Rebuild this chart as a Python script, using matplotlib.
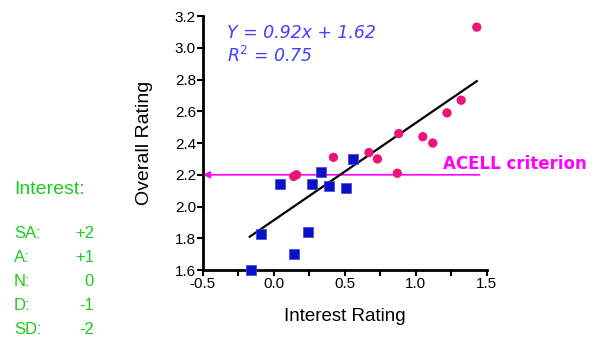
import matplotlib
matplotlib.use("Agg")
import matplotlib.pyplot as plt

# Data
blue_x = [-0.16, -0.09, 0.04, 0.14, 0.24, 0.27, 0.33, 0.39, 0.51, 0.56]
blue_y = [1.60, 1.83, 2.14, 1.70, 1.84, 2.14, 2.22, 2.13, 2.12, 2.30]
pink_x = [0.14, 0.16, 0.42, 0.67, 0.73, 0.88, 0.87, 1.05, 1.12, 1.22, 1.32, 1.43]
pink_y = [2.19, 2.20, 2.31, 2.34, 2.30, 2.46, 2.21, 2.44, 2.40, 2.59, 2.67, 3.13]
fit_x = [-0.17, 1.43]
fit_y = [1.81, 2.79]
acell_y = 2.2
acell_x_end = 1.45
x_ticks = [-0.5, 0.0, 0.5, 1.0, 1.5]
x_minor = [-0.25, 0.25, 0.75, 1.25]
y_ticks = [1.6, 1.8, 2.0, 2.2, 2.4, 2.6, 2.8, 3.0, 3.2]
legend_title = "Interest:"
legend_keys = ["SA:", "A:", "N:", "D:", "SD:"]
legend_vals = ["+2", "+1", "0", "-1", "-2"]

plt.rcParams['font.family'] = ['Liberation Sans', 'DejaVu Sans']

fig = plt.figure(figsize=(5.95, 3.41), dpi=100)
ax = fig.add_axes([0.341, 0.208, 0.477, 0.745])

ax.plot(fit_x, fit_y, color='black', lw=1.6, zorder=2)
ax.annotate('', xy=(-0.5, acell_y), xytext=(acell_x_end, acell_y),
            arrowprops=dict(arrowstyle='-|>', color='#ff00ff', lw=1.2,
                            mutation_scale=10, shrinkA=0, shrinkB=0),
            zorder=1, annotation_clip=False)
ax.scatter(blue_x, blue_y, marker='s', s=44, color='#0a10c8', zorder=3,
           edgecolors='#3a44e0', linewidths=0.5, clip_on=False)
ax.scatter(pink_x, pink_y, marker='o', s=45, color='#ec1478', zorder=3,
           edgecolors='none', clip_on=False)

ax.set_xlim(-0.5, 1.5)
ax.set_ylim(1.6, 3.2)
ax.set_xticks(x_ticks)
ax.set_xticklabels([f"{v:.1f}" for v in x_ticks])
ax.set_xticks(x_minor, minor=True)
ax.set_yticks(y_ticks)
ax.set_yticklabels([f"{v:.1f}" for v in y_ticks])
for s in ['top', 'right']:
    ax.spines[s].set_visible(False)
for s in ['left', 'bottom']:
    ax.spines[s].set_linewidth(2)
ax.tick_params(axis='both', which='both', direction='out', width=1.5, length=4,
               labelsize=11, pad=1)
ax.set_xlabel('Interest Rating', fontsize=13.5, labelpad=12)
ax.set_ylabel('Overall Rating', fontsize=14, labelpad=16)

ax.text(-0.33, 3.09, 'Y = 0.92x + 1.62', color='#4040ff', fontsize=12.5,
        style='italic', family=['DejaVu Sans'], va='center')
ax.text(-0.33, 2.95, 'R$^2$ = 0.75', color='#4040ff', fontsize=12.5,
        style='italic', family=['DejaVu Sans'], va='center')
ax.text(1.19, 2.27, 'ACELL criterion', color='#ff00ff', fontsize=12,
        fontweight='bold', va='center', family=['DejaVu Sans'])

g = '#1ccc1c'
fig.text(14 / 595, 1 - 190 / 341, legend_title, color=g, fontsize=14, va='center')
for i, (k, v) in enumerate(zip(legend_keys, legend_vals)):
    yy = 1 - (234 + 24 * i) / 341
    fig.text(14 / 595, yy, k, color=g, fontsize=12, va='center')
    fig.text(94 / 595, yy, v, color=g, fontsize=12, va='center', ha='right')

fig.savefig('out.png', dpi=100)
